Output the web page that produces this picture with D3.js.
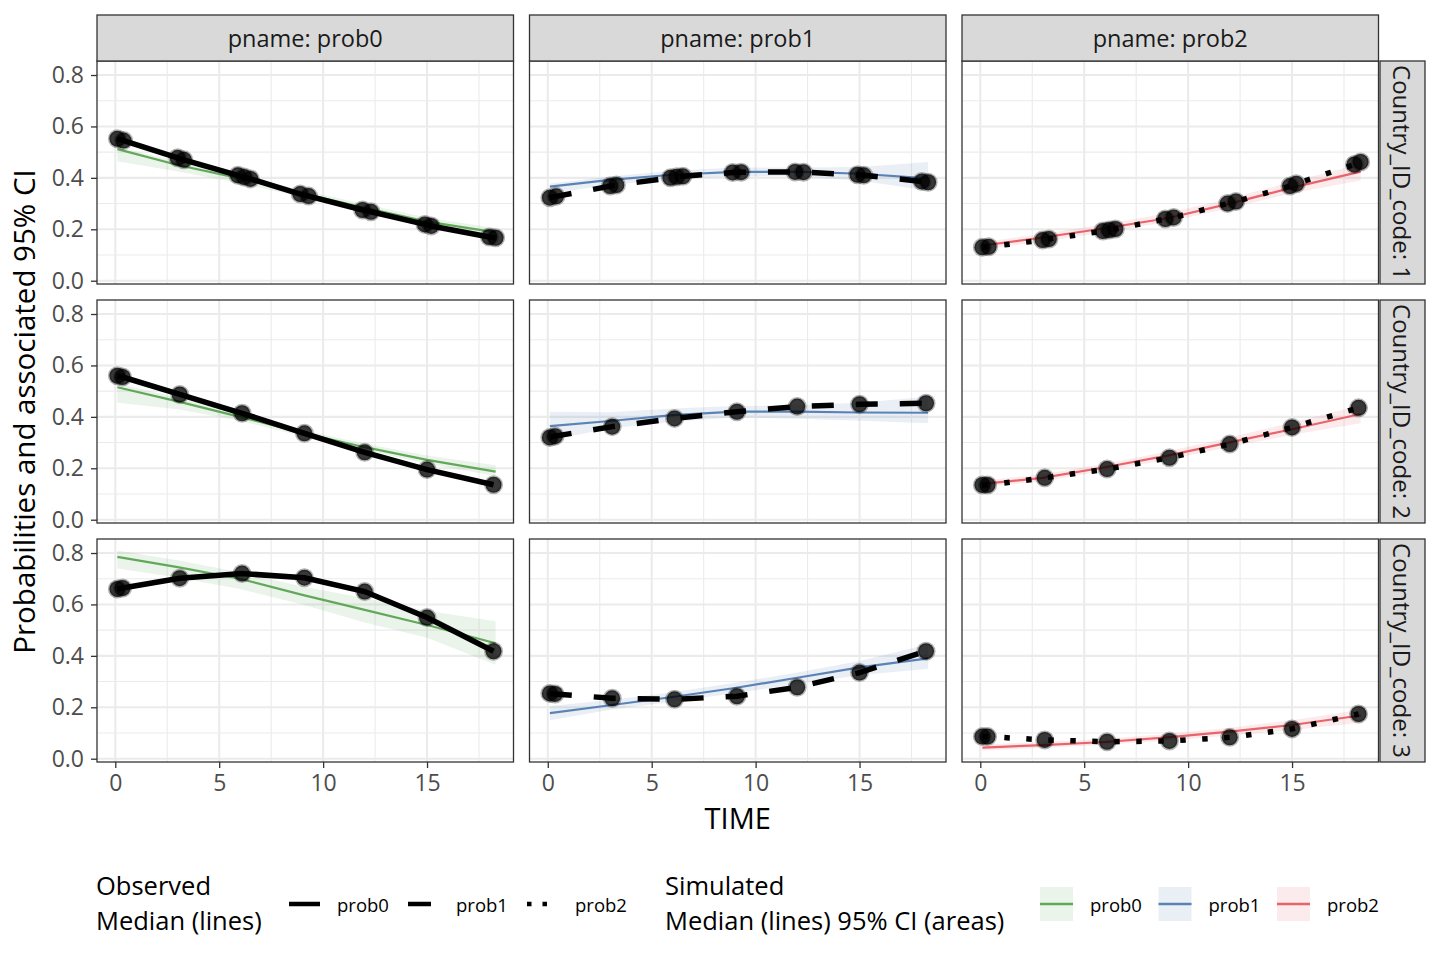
<!DOCTYPE html>
<html>
<head>
<meta charset="utf-8">
<script src="https://cdn.jsdelivr.net/npm/d3@7"></script>
<style>
  body { margin: 0; background: #fff; }
  text { font-family: "Open Sans", "Noto Sans", sans-serif; }
</style>
</head>
<body>
<svg id="chart" width="1440" height="960"></svg>
<script>
// ---- data ----
const pnames = ["prob0", "prob1", "prob2"];
const countries = ["1", "2", "3"];
const xTicks = [0, 5, 10, 15];
const xMinor = [2.5, 7.5, 12.5, 17.5];
const yTicks = [0, 0.2, 0.4, 0.6, 0.8];
const yMinor = [0.1, 0.3, 0.5, 0.7];

// observed medians (black lines + points)
const obsTime1 = [0.1, 0.4, 3.0, 3.3, 5.9, 6.2, 6.5, 8.9, 9.3, 11.9, 12.3, 14.9, 15.2, 18.0, 18.3];
const obsTime2 = [0.1, 0.35, 3.1, 6.1, 9.1, 12.0, 15.0, 18.2];
const obsTime3 = [0.1, 0.35, 3.1, 6.1, 9.1, 12.0, 15.0, 18.2];

const obs1_prob0 = [0.552, 0.545, 0.478, 0.470, 0.410, 0.403, 0.396, 0.337, 0.329, 0.275, 0.268, 0.219, 0.213, 0.170, 0.167];
const obs1_prob1 = [0.323, 0.328, 0.368, 0.372, 0.400, 0.404, 0.406, 0.421, 0.422, 0.423, 0.422, 0.412, 0.410, 0.386, 0.383];
const obs1_prob2 = [0.130, 0.132, 0.158, 0.162, 0.193, 0.197, 0.201, 0.240, 0.246, 0.300, 0.308, 0.368, 0.377, 0.452, 0.462];

const obs2_prob0 = [0.560, 0.555, 0.487, 0.414, 0.336, 0.262, 0.195, 0.136];
const obs2_prob1 = [0.320, 0.325, 0.362, 0.394, 0.420, 0.440, 0.449, 0.453];
const obs2_prob2 = [0.135, 0.135, 0.163, 0.197, 0.241, 0.294, 0.359, 0.435];

const obs3_prob0 = [0.660, 0.664, 0.702, 0.720, 0.704, 0.650, 0.549, 0.418];
const obs3_prob1 = [0.254, 0.252, 0.235, 0.231, 0.243, 0.278, 0.335, 0.418];
const obs3_prob2 = [0.086, 0.086, 0.073, 0.066, 0.069, 0.083, 0.116, 0.174];

// simulated median and 95% CI
const simTime = [0.1, 3, 6, 9, 12, 15, 18.3];

const sim1_prob0 = [0.512, 0.450, 0.398, 0.340, 0.283, 0.230, 0.188];
const lo1_prob0  = [0.465, 0.425, 0.380, 0.325, 0.270, 0.215, 0.168];
const hi1_prob0  = [0.520, 0.465, 0.410, 0.352, 0.298, 0.245, 0.205];
const sim1_prob1 = [0.366, 0.392, 0.412, 0.423, 0.424, 0.416, 0.398];
const lo1_prob1  = [0.340, 0.372, 0.395, 0.405, 0.405, 0.390, 0.350];
const hi1_prob1  = [0.378, 0.405, 0.428, 0.440, 0.440, 0.442, 0.462];
const sim1_prob2 = [0.137, 0.168, 0.204, 0.243, 0.300, 0.362, 0.424];
const lo1_prob2  = [0.122, 0.152, 0.188, 0.228, 0.283, 0.340, 0.390];
const hi1_prob2  = [0.150, 0.182, 0.220, 0.262, 0.320, 0.385, 0.455];

const sim2_prob0 = [0.515, 0.460, 0.400, 0.338, 0.282, 0.233, 0.187];
const lo2_prob0  = [0.455, 0.430, 0.385, 0.325, 0.270, 0.218, 0.170];
const hi2_prob0  = [0.530, 0.475, 0.415, 0.350, 0.295, 0.250, 0.212];
const sim2_prob1 = [0.364, 0.384, 0.407, 0.420, 0.420, 0.417, 0.416];
const lo2_prob1  = [0.310, 0.355, 0.381, 0.398, 0.393, 0.385, 0.375];
const hi2_prob1  = [0.420, 0.418, 0.433, 0.442, 0.445, 0.455, 0.478];
const sim2_prob2 = [0.139, 0.163, 0.204, 0.249, 0.301, 0.352, 0.411];
const lo2_prob2  = [0.128, 0.150, 0.190, 0.233, 0.283, 0.330, 0.375];
const hi2_prob2  = [0.152, 0.177, 0.218, 0.265, 0.320, 0.378, 0.445];

const sim3_prob0 = [0.785, 0.745, 0.700, 0.637, 0.579, 0.520, 0.449];
const lo3_prob0  = [0.740, 0.705, 0.660, 0.600, 0.530, 0.470, 0.365];
const hi3_prob0  = [0.810, 0.772, 0.725, 0.670, 0.625, 0.575, 0.535];
const sim3_prob1 = [0.177, 0.208, 0.240, 0.275, 0.315, 0.355, 0.390];
const lo3_prob1  = [0.150, 0.190, 0.222, 0.255, 0.290, 0.325, 0.350];
const hi3_prob1  = [0.205, 0.228, 0.258, 0.295, 0.335, 0.380, 0.445];
const sim3_prob2 = [0.043, 0.053, 0.065, 0.083, 0.105, 0.131, 0.168];
const lo3_prob2  = [0.032, 0.042, 0.054, 0.070, 0.090, 0.112, 0.140];
const hi3_prob2  = [0.055, 0.065, 0.078, 0.096, 0.120, 0.150, 0.190];

const simColors = ["#62A85A", "#5B82B5", "#E8646A"];
const obsDash = [null, "22,22", "5.5,16.5"];

// build panel table from the arrays
const obsTimes = { "1": obsTime1, "2": obsTime2, "3": obsTime3 };
const src = {
  "1": [[obs1_prob0, sim1_prob0, lo1_prob0, hi1_prob0], [obs1_prob1, sim1_prob1, lo1_prob1, hi1_prob1], [obs1_prob2, sim1_prob2, lo1_prob2, hi1_prob2]],
  "2": [[obs2_prob0, sim2_prob0, lo2_prob0, hi2_prob0], [obs2_prob1, sim2_prob1, lo2_prob1, hi2_prob1], [obs2_prob2, sim2_prob2, lo2_prob2, hi2_prob2]],
  "3": [[obs3_prob0, sim3_prob0, lo3_prob0, hi3_prob0], [obs3_prob1, sim3_prob1, lo3_prob1, hi3_prob1], [obs3_prob2, sim3_prob2, lo3_prob2, hi3_prob2]]
};
const panels = [];
countries.forEach((c, r) => {
  pnames.forEach((p, k) => {
    const s = src[c][k];
    panels.push({
      row: r, col: k, country: c, pname: p,
      obs: obsTimes[c].map((t, i) => ({ t: t, v: s[0][i] })),
      sim: simTime.map((t, i) => ({ t: t, v: s[1][i], lo: s[2][i], hi: s[3][i] }))
    });
  });
});

// ---- layout ----
const padLeft = 97, padTop = 61, pw = 416.5, ph = 223, gap = 16, stripH = 46, stripW = 45;
const svg = d3.select("#chart");

const x = d3.scaleLinear().domain([-0.88, 19.16]).range([0, pw]);
const y = d3.scaleLinear().domain([-0.0128, 0.8545]).range([ph, 0]);

const line = d3.line().x(d => x(d.t)).y(d => y(d.v));
const area = d3.area().x(d => x(d.t)).y0(d => y(d.lo)).y1(d => y(d.hi));

const g = svg.selectAll("g.panel")
  .data(panels)
  .enter()
  .append("g")
  .attr("class", "panel")
  .attr("transform", d => "translate(" + (padLeft + d.col * (pw + gap)) + "," + (padTop + d.row * (ph + gap)) + ")");

g.append("rect")
  .attr("width", pw).attr("height", ph)
  .attr("fill", "#fff");

// grid
g.each(function() {
  const p = d3.select(this);
  p.selectAll(".gxm").data(xMinor).enter().append("line")
    .attr("x1", d => x(d)).attr("x2", d => x(d)).attr("y1", 0).attr("y2", ph)
    .attr("stroke", "#EBEBEB").attr("stroke-width", 1.1);
  p.selectAll(".gym").data(yMinor).enter().append("line")
    .attr("y1", d => y(d)).attr("y2", d => y(d)).attr("x1", 0).attr("x2", pw)
    .attr("stroke", "#EBEBEB").attr("stroke-width", 1.1);
  p.selectAll(".gx").data(xTicks).enter().append("line")
    .attr("x1", d => x(d)).attr("x2", d => x(d)).attr("y1", 0).attr("y2", ph)
    .attr("stroke", "#EBEBEB").attr("stroke-width", 2.1);
  p.selectAll(".gy").data(yTicks).enter().append("line")
    .attr("y1", d => y(d)).attr("y2", d => y(d)).attr("x1", 0).attr("x2", pw)
    .attr("stroke", "#EBEBEB").attr("stroke-width", 2.1);
});

// simulated ribbon + median
g.append("path")
  .attr("d", d => area(d.sim))
  .attr("fill", d => simColors[d.col])
  .attr("fill-opacity", 0.13);

g.append("path")
  .attr("d", d => line(d.sim))
  .attr("fill", "none")
  .attr("stroke", d => simColors[d.col])
  .attr("stroke-width", 2.2);

// observed median
g.append("path")
  .attr("d", d => line(d.obs))
  .attr("fill", "none")
  .attr("stroke", "#000")
  .attr("stroke-width", 5.5)
  .attr("stroke-dasharray", d => obsDash[d.col]);

g.selectAll("circle")
  .data(d => d.obs)
  .enter()
  .append("circle")
  .attr("cx", d => x(d.t))
  .attr("cy", d => y(d.v))
  .attr("r", 8)
  .attr("fill", "#000")
  .attr("fill-opacity", 0.78)
  .attr("stroke", "#000")
  .attr("stroke-opacity", 0.3)
  .attr("stroke-width", 3);

// border
g.append("rect")
  .attr("width", pw).attr("height", ph)
  .attr("fill", "none")
  .attr("stroke", "#333333").attr("stroke-width", 1.3);

// axes
function styleAxis(sel) {
  sel.select(".domain").remove();
  sel.selectAll(".tick line").attr("stroke", "#333333").attr("stroke-width", 1.3);
  sel.selectAll(".tick text").attr("fill", "#4D4D4D").style("font-size", "23px");
}
countries.forEach((c, r) => {
  svg.append("g")
    .attr("transform", "translate(" + padLeft + "," + (padTop + r * (ph + gap)) + ")")
    .call(d3.axisLeft(y).tickValues(yTicks).tickFormat(d3.format(".1f")).tickSize(6).tickPadding(7))
    .call(styleAxis);
});
pnames.forEach((p, k) => {
  svg.append("g")
    .attr("transform", "translate(" + (padLeft + k * (pw + gap)) + "," + (padTop + 2 * (ph + gap) + ph) + ")")
    .call(d3.axisBottom(x).tickValues(xTicks).tickSize(6).tickPadding(7))
    .call(styleAxis);
});

// strips
pnames.forEach((p, k) => {
  const sx = padLeft + k * (pw + gap);
  svg.append("rect")
    .attr("x", sx).attr("y", padTop - stripH).attr("width", pw).attr("height", stripH)
    .attr("fill", "#D9D9D9").attr("stroke", "#333333").attr("stroke-width", 1.3);
  svg.append("text")
    .attr("x", sx + pw / 2).attr("y", padTop - stripH / 2)
    .attr("text-anchor", "middle").attr("dominant-baseline", "central")
    .attr("fill", "#1A1A1A").style("font-size", "23.5px")
    .text("pname: " + p);
});
countries.forEach((c, r) => {
  const sx = padLeft + 3 * pw + 2 * gap + 1.5;
  const sy = padTop + r * (ph + gap);
  svg.append("rect")
    .attr("x", sx).attr("y", sy).attr("width", stripW).attr("height", ph)
    .attr("fill", "#D9D9D9").attr("stroke", "#333333").attr("stroke-width", 1.3);
  svg.append("text")
    .attr("transform", "translate(" + (sx + stripW / 2) + "," + (sy + ph / 2) + ") rotate(90)")
    .attr("text-anchor", "middle").attr("dominant-baseline", "central")
    .attr("fill", "#1A1A1A").style("font-size", "24px")
    .text("Country_ID_code: " + c);
});

// axis titles
svg.append("text")
  .attr("x", padLeft + (3 * pw + 2 * gap) / 2).attr("y", 829)
  .attr("text-anchor", "middle")
  .attr("fill", "#000").style("font-size", "29px")
  .text("TIME");
svg.append("text")
  .attr("transform", "translate(35," + (padTop + (3 * ph + 2 * gap) / 2) + ") rotate(-90)")
  .attr("text-anchor", "middle")
  .attr("fill", "#000").style("font-size", "29.5px")
  .text("Probabilities and associated 95% CI");

// legends
const legY = 904;
const leg1 = svg.append("g");
leg1.append("text").attr("x", 96).attr("y", 895).style("font-size", "25.5px").text("Observed");
leg1.append("text").attr("x", 96).attr("y", 930).style("font-size", "25.5px").text("Median (lines)");
pnames.forEach((p, k) => {
  const kx = 289 + k * 119;
  leg1.append("line")
    .attr("x1", kx).attr("x2", kx + 31).attr("y1", legY).attr("y2", legY)
    .attr("stroke", "#000").attr("stroke-width", 4.5)
    .attr("stroke-dasharray", k === 0 ? null : (k === 1 ? "23,23" : "4.5,11"));
  leg1.append("text")
    .attr("x", kx + 48).attr("y", legY).attr("dominant-baseline", "central")
    .attr("fill", "#000").style("font-size", "18.5px").text(p);
});

const leg2 = svg.append("g");
leg2.append("text").attr("x", 665).attr("y", 895).style("font-size", "25.5px").text("Simulated");
leg2.append("text").attr("x", 665).attr("y", 930).style("font-size", "25.5px").text("Median (lines) 95% CI (areas)");
pnames.forEach((p, k) => {
  const kx = 1040 + k * 118.5;
  leg2.append("rect")
    .attr("x", kx).attr("y", 887).attr("width", 33).attr("height", 34)
    .attr("fill", simColors[k]).attr("fill-opacity", 0.13);
  leg2.append("line")
    .attr("x1", kx).attr("x2", kx + 33).attr("y1", legY).attr("y2", legY)
    .attr("stroke", simColors[k]).attr("stroke-width", 2.5);
  leg2.append("text")
    .attr("x", kx + 50).attr("y", legY).attr("dominant-baseline", "central")
    .attr("fill", "#000").style("font-size", "18.5px").text(p);
});
</script>
</body>
</html>
